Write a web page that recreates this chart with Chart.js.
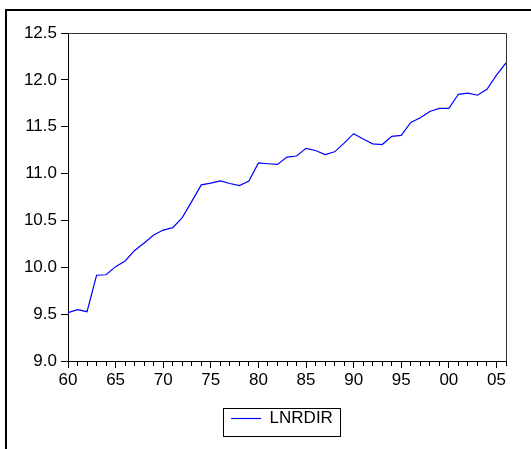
<!DOCTYPE html>
<html>
<head>
<meta charset="utf-8">
<title>LNRDIR</title>
<script src="https://cdn.jsdelivr.net/npm/chart.js@4/dist/chart.umd.min.js"></script>
<style>
    html, body { margin: 0; padding: 0; background: #fff; }
    #chart { display: block; }
</style>
</head>
<body>
<canvas id="chart" width="531" height="449"></canvas>
<script>
// annual series, 1960 - 2006
const years = [
    1960, 1961, 1962, 1963, 1964, 1965, 1966, 1967, 1968, 1969,
    1970, 1971, 1972, 1973, 1974, 1975, 1976, 1977, 1978, 1979,
    1980, 1981, 1982, 1983, 1984, 1985, 1986, 1987, 1988, 1989,
    1990, 1991, 1992, 1993, 1994, 1995, 1996, 1997, 1998, 1999,
    2000, 2001, 2002, 2003, 2004, 2005, 2006
];
const lnrdir = [
    9.515, 9.547, 9.526, 9.915, 9.920, 10.007, 10.067, 10.180, 10.260, 10.345,
    10.397, 10.423, 10.530, 10.703, 10.879, 10.898, 10.922, 10.894, 10.872, 10.921,
    11.114, 11.105, 11.098, 11.176, 11.187, 11.269, 11.246, 11.203, 11.232, 11.325,
    11.426, 11.368, 11.317, 11.310, 11.397, 11.408, 11.545, 11.596, 11.662, 11.695,
    11.695, 11.846, 11.859, 11.836, 11.900, 12.050, 12.180
];
const yTicks = { min: 9.0, max: 12.5, step: 0.5 };
const seriesName = 'LNRDIR';

Chart.defaults.font.family = '"Liberation Sans", Arial, sans-serif';
Chart.defaults.font.size = 17;
Chart.defaults.color = '#000';

// outer frame plus the box around the legend and plot
const framePlugin = {
    id: 'frame',
    beforeDraw(chart) {
        const ctx = chart.ctx;
        ctx.save();
        ctx.fillStyle = '#fff';
        ctx.fillRect(0, 0, chart.width, chart.height);
        ctx.strokeStyle = '#000';
        ctx.lineWidth = 2;
        ctx.beginPath();
        ctx.moveTo(6, chart.height);
        ctx.lineTo(6, 10);
        ctx.lineTo(chart.width, 10);
        ctx.stroke();
        ctx.restore();
    },
    afterLayout(chart) {
        // legend sits under the middle of the plot, not the canvas
        const lg = chart.legend;
        lg.left = 223;
        lg.right = 341;
        lg.width = 118;
    },
    afterDraw(chart) {
        const ctx = chart.ctx;
        const a = chart.chartArea;
        const lg = chart.legend;
        ctx.save();
        ctx.lineWidth = 1;
        ctx.strokeStyle = '#333';
        ctx.beginPath();
        ctx.moveTo(a.left, a.top + 0.5);
        ctx.lineTo(a.right + 0.5, a.top + 0.5);
        ctx.lineTo(a.right + 0.5, a.bottom);
        ctx.stroke();
        ctx.strokeStyle = '#000';
        ctx.strokeRect(Math.round(lg.left) + 0.5, Math.round(lg.top) + 0.5,
            Math.round(lg.width) - 1, Math.round(lg.height) - 1);
        ctx.restore();
    }
};

new Chart(document.getElementById('chart'), {
    type: 'line',
    data: {
        datasets: [{
            label: seriesName,
            data: years.map((yr, i) => ({ x: yr, y: lnrdir[i] })),
            borderColor: 'rgb(0, 0, 255)',
            backgroundColor: 'rgb(0, 0, 255)',
            borderWidth: 1.2,
            pointRadius: 0,
            tension: 0,
            fill: false
        }]
    },
    options: {
        responsive: false,
        animation: false,
        devicePixelRatio: 1,
        layout: { padding: { top: 33, right: 25, bottom: 12, left: 0 } },
        plugins: {
            tooltip: { enabled: false },
            legend: {
                position: 'bottom',
                labels: {
                    usePointStyle: true,
                    pointStyle: 'line',
                    pointStyleWidth: 30,
                    padding: 2,
                    color: '#000'
                }
            }
        },
        scales: {
            x: {
                type: 'linear',
                min: years[0],
                max: years[years.length - 1],
                afterFit(scale) { scale.height = 47; },
                border: { color: '#000', width: 1 },
                grid: {
                    drawOnChartArea: false,
                    color: '#000',
                    tickLength: 7,
                    // short marks for single years, long ones every five
                    tickBorderDash: c => (c.tick && c.tick.value % 5 === 0) ? [] : [4, 100]
                },
                ticks: {
                    stepSize: 1,
                    autoSkip: false,
                    maxRotation: 0,
                    padding: 2,
                    callback: v => v % 5 === 0 ? String(v % 100).padStart(2, '0') : ''
                }
            },
            y: {
                min: yTicks.min,
                max: yTicks.max,
                afterFit(scale) { scale.width = 68; },
                border: { color: '#000', width: 1 },
                grid: {
                    drawOnChartArea: false,
                    color: '#000',
                    tickLength: 7
                },
                ticks: {
                    stepSize: yTicks.step,
                    padding: 4,
                    callback: v => v.toFixed(1)
                }
            }
        }
    },
    plugins: [framePlugin]
});
</script>
</body>
</html>
